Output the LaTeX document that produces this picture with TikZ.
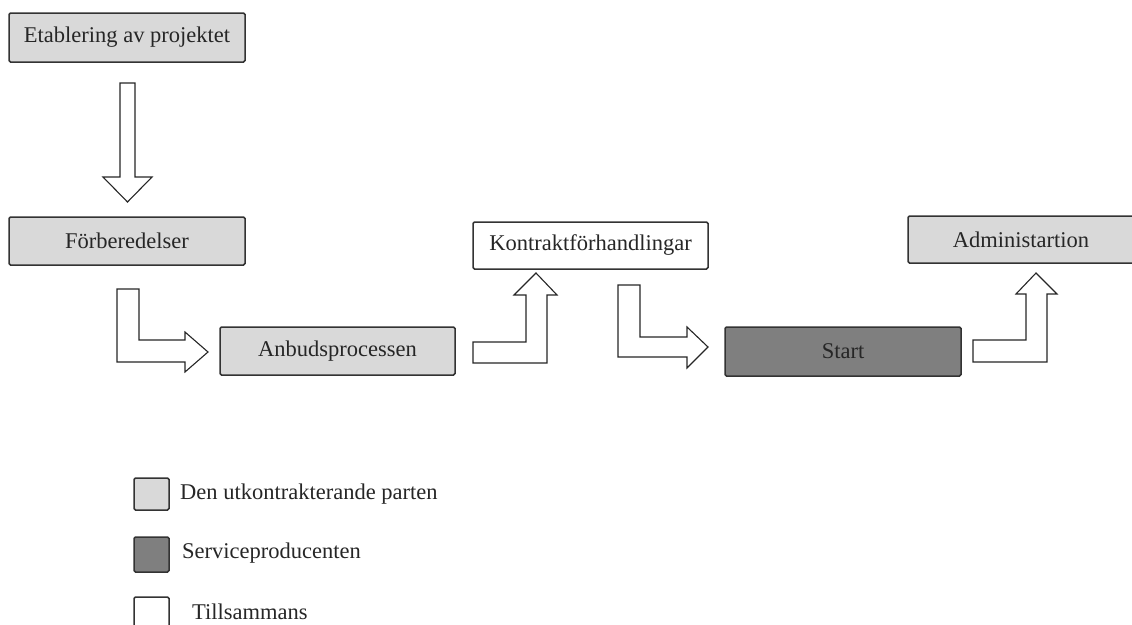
\documentclass[tikz,border=0pt]{standalone}
\usepackage{fontspec}
\setmainfont{Liberation Serif}
\definecolor{lightfill}{HTML}{D9D9D9}
\definecolor{darkfill}{HTML}{7F7F7F}
\definecolor{edge}{HTML}{333333}
\definecolor{txt}{HTML}{262626}
\begin{document}
\begin{tikzpicture}[x=1pt,y=-1pt,
  box/.style={draw=edge,line width=1.5pt,rounded corners=1.5pt,inner sep=0pt,
    text=txt,font=\fontsize{22.5}{26}\selectfont},
  party/.style={box,fill=lightfill},
  provider/.style={box,fill=darkfill},
  together/.style={box,fill=white},
  blockarrow/.style={draw=black!85,line width=1.1pt,fill=white,line join=miter},
  legtext/.style={anchor=west,inner sep=0pt,text=txt,font=\fontsize{22.5}{26}\selectfont}]
\useasboundingbox (0,0) rectangle (1132,624);
\clip (0,0) rectangle (1132,624);

% boxes
\node[party,minimum width=236pt,minimum height=49pt] (etab) at (127,37.5) {Etablering av projektet};
\node[party,minimum width=236pt,minimum height=48pt] (forb) at (127,241) {Förberedelser};
\node[party,minimum width=235pt,minimum height=48pt] (anbud) at (337.5,351) {Anbudsprocessen};
\node[together,minimum width=235pt,minimum height=47pt] (kontr) at (590.5,245.5) {Kontraktförhandlingar};
\node[provider,minimum width=236pt,minimum height=49pt] (start) at (843,351.5) {Start};
\node[party,minimum width=226pt,minimum height=47pt] (admin) at (1021,239.5) {Administartion};

% block arrows
\draw[blockarrow] (120,83) -- (135,83) -- (135,177) -- (152,177) -- (127.5,202) -- (103,177) -- (120,177) -- cycle;
\draw[blockarrow] (117,289) -- (139,289) -- (139,340) -- (185,340) -- (185,332) -- (208,352) -- (185,372) -- (185,362) -- (117,362) -- cycle;
\draw[blockarrow] (473,342) -- (526,342) -- (526,295) -- (514,295) -- (536,273) -- (557,295) -- (547,295) -- (547,363) -- (473,363) -- cycle;
\draw[blockarrow] (618,285) -- (640,285) -- (640,337) -- (687,337) -- (687,327) -- (708,347) -- (687,368) -- (687,357) -- (618,357) -- cycle;
\draw[blockarrow] (973,340) -- (1026,340) -- (1026,294) -- (1016,294) -- (1036,273) -- (1057,294) -- (1047,294) -- (1047,362) -- (973,362) -- cycle;

% legend
\node[party,minimum width=35pt,minimum height=32pt] (leg1) at (151.5,494) {};
\node[provider,minimum width=35pt,minimum height=35pt] (leg2) at (151.5,554.5) {};
\node[together,minimum width=35pt,minimum height=35pt] (leg3) at (151.5,614.5) {};
\node[legtext] (legt1) at (180,494) {Den utkontrakterande parten};
\node[legtext] (legt2) at (182,553) {Serviceproducenten};
\node[legtext] (legt3) at (192,612) {Tillsammans};
\end{tikzpicture}
\end{document}
